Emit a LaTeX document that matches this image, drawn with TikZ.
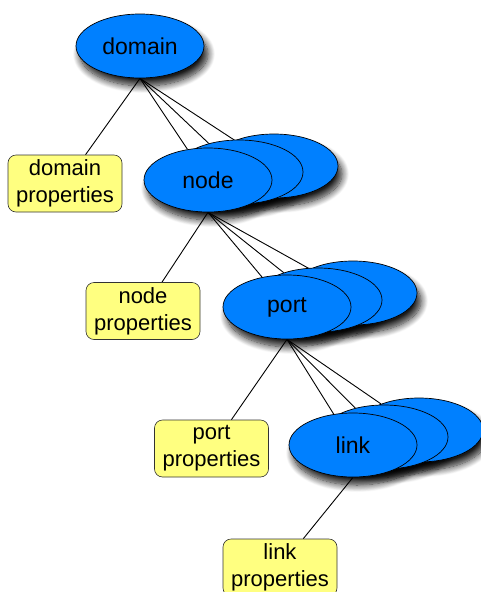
\documentclass[tikz,border=0pt]{standalone}
\usepackage{fontspec}
\setmainfont{Liberation Sans}
\usetikzlibrary{shapes.geometric,shadows.blur}
\definecolor{entblue}{RGB}{0,128,255}
\definecolor{propyellow}{RGB}{255,255,128}
\pgfdeclarelayer{shadowlayer}
\pgfdeclarelayer{linelayer}
\pgfsetlayers{shadowlayer,linelayer,main}
\begin{document}
\begin{tikzpicture}[x=1pt,y=-1pt,
  ent/.style={ellipse, draw=black, line width=0.7pt, fill=entblue,
    minimum width=128pt, minimum height=64pt, inner sep=0pt,
    font=\fontsize{23}{26}\selectfont},
  prop/.style={rectangle, rounded corners=8pt, draw=black!80, line width=0.6pt,
    fill=propyellow, minimum width=114pt, minimum height=57pt, inner sep=0pt,
    align=center, font=\fontsize{22}{27}\selectfont},
  conn/.style={draw=black, line width=0.9pt},
  entshadow/.style={blur shadow={shadow xshift=4pt, shadow yshift=-8pt,
    shadow blur radius=7pt, shadow blur steps=12, shadow opacity=90}}]
\useasboundingbox (0,0) rectangle (481,592);

% entities
\node[ent] (domain) at (140,46) {domain};

\node[ent] (node3) at (274,166) {};
\node[ent] (node2) at (239,172) {};
\node[ent] (node1) at (208,180) {node};

\node[ent] (port3) at (353,293) {};
\node[ent] (port2) at (318,300) {};
\node[ent] (port1) at (287,307) {port};

\node[ent] (link3) at (419,430) {};
\node[ent] (link2) at (384,437) {};
\node[ent] (link1) at (353,445) {link};

% property boxes
\node[prop] (domprop) at (65,183.5) {domain\\properties};
\node[prop] (nodeprop) at (143,311) {node\\properties};
\node[prop] (portprop) at (211.5,448.5) {port\\properties};
\node[prop] (linkprop) at (280,567.5) {link\\properties};

% shadows
\begin{pgfonlayer}{shadowlayer}
\foreach \e in {domain,node1,node2,node3,port1,port2,port3,link1,link2,link3}
  \path[entshadow] (\e.center) ellipse [x radius=64, y radius=32];
\end{pgfonlayer}

% connectors
\begin{pgfonlayer}{linelayer}
\draw[conn] (domain.south) -- (domprop);
\draw[conn] (domain.south) -- (node1);
\draw[conn] (domain.south) -- (node2);
\draw[conn] (domain.south) -- (node3);
\draw[conn] (node1.south) -- (nodeprop);
\draw[conn] (node1.south) -- (port1);
\draw[conn] (node1.south) -- (port2);
\draw[conn] (node1.south) -- (port3);
\draw[conn] (port1.south) -- (portprop);
\draw[conn] (port1.south) -- (link1);
\draw[conn] (port1.south) -- (link2);
\draw[conn] (port1.south) -- (link3);
\draw[conn] (link1.south) -- (linkprop);
\end{pgfonlayer}
\end{tikzpicture}
\end{document}
